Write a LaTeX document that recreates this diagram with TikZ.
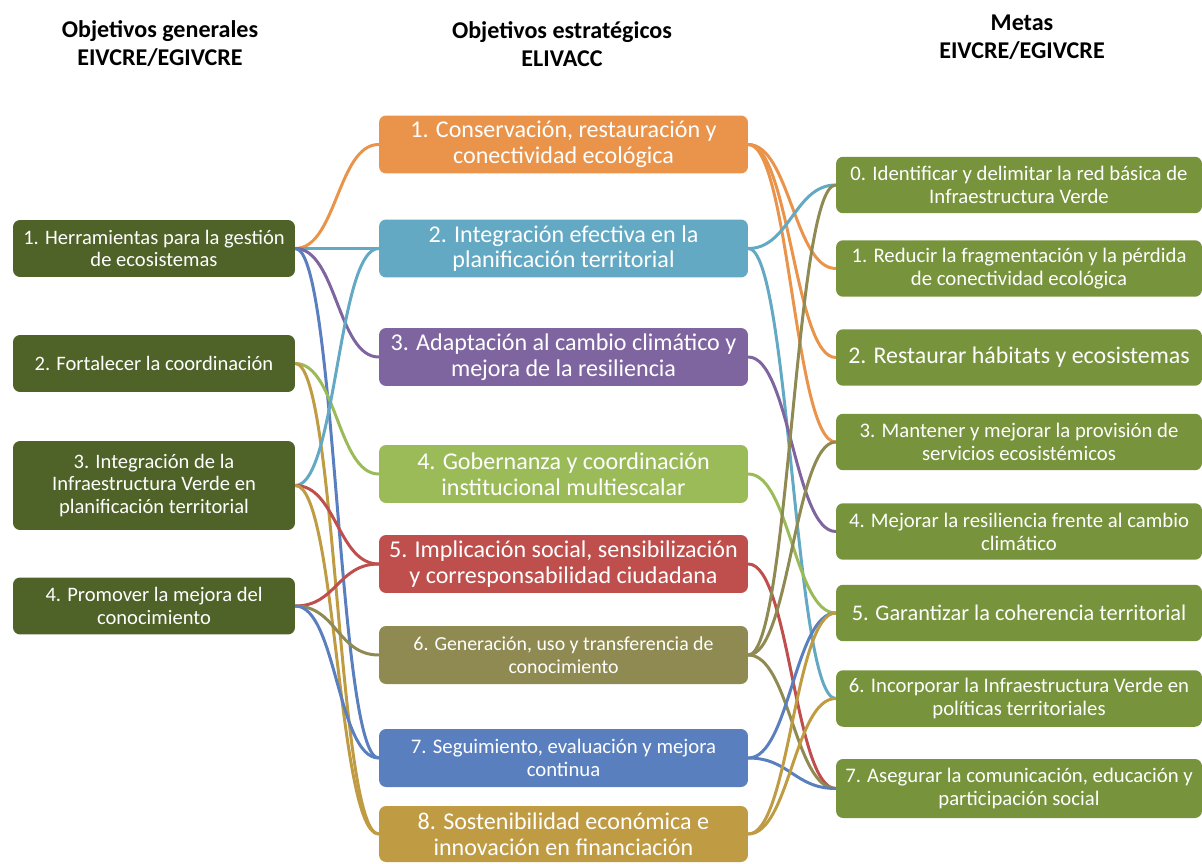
\documentclass[tikz,border=0pt]{standalone}
\usepackage{fontspec}
\setmainfont{Carlito}
\usetikzlibrary{backgrounds}

\definecolor{leftc}{HTML}{4F6228}
\definecolor{rightc}{HTML}{77933C}
\definecolor{orangec}{HTML}{E9944A}
\definecolor{tealc}{HTML}{63A9C3}
\definecolor{purplec}{HTML}{7F65A0}
\definecolor{greenc}{HTML}{9BBB59}
\definecolor{redc}{HTML}{BE4F4C}
\definecolor{olivec}{HTML}{8E8A52}
\definecolor{bluec}{HTML}{5A7FBE}
\definecolor{goldc}{HTML}{BF9B43}

\tikzset{
    box/.style={rectangle, rounded corners=4pt, fill=#1, text=white, align=center, inner sep=1pt},
    general/.style={box=leftc, minimum width=5.64cm, minimum height=1.14cm, font=\fontsize{11.7}{13}\selectfont},
    strat/.style={box=#1, minimum width=7.38cm, minimum height=1.16cm, font=\fontsize{13.7}{14.7}\selectfont},
    meta/.style={box=rightc, minimum width=7.32cm, minimum height=1.13cm, font=\fontsize{11.8}{13}\selectfont},
    head/.style={align=center, font=\fontsize{13.7}{15.9}\selectfont\bfseries},
    link/.style={line width=1.7pt, line cap=round, to path={.. controls +(41,0) and +(-41,0) .. (\tikztotarget)}},
}

\begin{document}
\begin{tikzpicture}[x=0.02cm, y=-0.02cm]
    \useasboundingbox (0,0) rectangle (1202,864);

    % headers
    \node[head] (hgen) at (160,44) {Objetivos generales\\EIVCRE/EGIVCRE};
    \node[head] (hstrat) at (562,44) {Objetivos estratégicos\\ELIVACC};
    \node[head] (hmeta) at (1022,37) {Metas\\EIVCRE/EGIVCRE};

    % general objectives
    \node[general] (g1) at (154,248.5) {1. Herramientas para la gestión\\de ecosistemas};
    \node[general] (g2) at (154,363.5) {2. Fortalecer la coordinación};
    \node[general, minimum height=1.78cm] (g3) at (154,485.5) {3. Integración de la\\Infraestructura Verde en\\planificación territorial};
    \node[general] (g4) at (154,606) {4. Promover la mejora del\\conocimiento};

    % strategic objectives
    \node[strat=orangec] (s1) at (563.5,144.5) {1. Conservación, restauración y\\conectividad ecológica};
    \node[strat=tealc] (s2) at (563.5,248.5) {2. Integración efectiva en la\\planificación territorial};
    \node[strat=purplec] (s3) at (563.5,357) {3. Adaptación al cambio climático y\\mejora de la resiliencia};
    \node[strat=greenc] (s4) at (563.5,474) {4. Gobernanza y coordinación\\institucional multiescalar};
    \node[strat=redc] (s5) at (563.5,564) {5. Implicación social, sensibilización\\y corresponsabilidad ciudadana};
    \node[strat=olivec, font=\fontsize{11.3}{13}\selectfont] (s6) at (563.5,655) {6. Generación, uso y transferencia de\\conocimiento};
    \node[strat=bluec, font=\fontsize{11.8}{13}\selectfont] (s7) at (563.5,758) {7. Seguimiento, evaluación y mejora\\continua};
    \node[strat=goldc, minimum height=1.12cm] (s8) at (563.5,834) {8. Sostenibilidad económica e\\innovación en financiación};

    % goals
    \node[meta] (m0) at (1019,185) {0. Identificar y delimitar la red básica de\\Infraestructura Verde};
    \node[meta] (m1) at (1019,268.5) {1. Reducir la fragmentación y la pérdida\\de conectividad ecológica};
    \node[meta, font=\fontsize{13.6}{14}\selectfont] (m2) at (1019,357.5) {2. Restaurar hábitats y ecosistemas};
    \node[meta] (m3) at (1019,442) {3. Mantener y mejorar la provisión de\\servicios ecosistémicos};
    \node[meta] (m4) at (1019,531.5) {4. Mejorar la resiliencia frente al cambio\\climático};
    \node[meta, font=\fontsize{12.7}{14}\selectfont] (m5) at (1019,613) {5. Garantizar la coherencia territorial};
    \node[meta] (m6) at (1019,698.5) {6. Incorporar la Infraestructura Verde en\\políticas territoriales};
    \node[meta, minimum height=1.18cm] (m7) at (1019,788.5) {7. Asegurar la comunicación, educación y\\participación social};

    \begin{scope}[on background layer]
    % general -> strategic
    \draw[link, orangec] (g1.east) to (s1.west);
    \draw[link, tealc] (g1.east) to (s2.west);
    \draw[link, purplec] (g1.east) to (s3.west);
    \draw[link, bluec] (g1.east) to (s7.west);
    \draw[link, greenc] (g2.east) to (s4.west);
    \draw[link, goldc] (g2.east) to (s8.west);
    \draw[link, tealc] (g3.east) to (s2.west);
    \draw[link, redc] (g3.east) to (s5.west);
    \draw[link, goldc] (g3.east) to (s8.west);
    \draw[link, redc] (g4.east) to (s5.west);
    \draw[link, olivec] (g4.east) to (s6.west);
    \draw[link, bluec] (g4.east) to (s7.west);

    % strategic -> goals
    \draw[link, orangec] (s1.east) to (m1.west);
    \draw[link, orangec] (s1.east) to (m2.west);
    \draw[link, orangec] (s1.east) to (m3.west);
    \draw[link, tealc] (s2.east) to (m0.west);
    \draw[link, tealc] (s2.east) to (m6.west);
    \draw[link, purplec] (s3.east) to (m4.west);
    \draw[link, greenc] (s4.east) to (m5.west);
    \draw[link, redc] (s5.east) to (m7.west);
    \draw[link, olivec] (s6.east) to (m0.west);
    \draw[link, olivec] (s6.east) to (m3.west);
    \draw[link, olivec] (s6.east) to (m7.west);
    \draw[link, bluec] (s7.east) to (m5.west);
    \draw[link, bluec] (s7.east) to (m7.west);
    \draw[link, goldc] (s8.east) to (m5.west);
    \draw[link, goldc] (s8.east) to (m6.west);
    \end{scope}
\end{tikzpicture}
\end{document}
